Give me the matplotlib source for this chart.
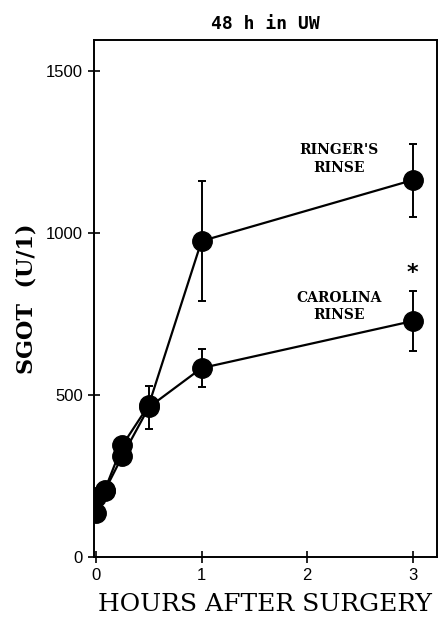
import matplotlib.pyplot as plt

# hours after surgery
hours = [0, 0.083, 0.25, 0.5, 1, 3]

# SGOT (U/l) means and error
ringer = [185, 207, 345, 469, 975, 1163]
ringer_err = [0, 0, 20, 0, 185, 113]
carolina = [136, 205, 312, 462, 583, 728]
carolina_err = [0, 0, 18, 66, 58, 93]

serif = ['DejaVu Serif']
sans = ['Liberation Sans', 'DejaVu Sans']

fig = plt.figure(figsize=(4.39, 6.22), dpi=100)
ax = fig.add_axes([0.214, 0.1045, 0.781, 0.8315])

for y, e in [(ringer, ringer_err), (carolina, carolina_err)]:
    ax.errorbar(hours, y, yerr=e, color='black', lw=1.6, marker='o', ms=14,
                elinewidth=1.4, capsize=3, capthick=1.4)

ax.set_xlim(-0.02, 3.23)
ax.set_ylim(0, 1596)
ax.set_xticks([0, 1, 2, 3])
ax.set_yticks([0, 500, 1000, 1500])
ax.tick_params(direction='inout', length=9, width=1.2, labelsize=12)
for lab in ax.get_xticklabels() + ax.get_yticklabels():
    lab.set_family(sans)
for s in ax.spines.values():
    s.set_linewidth(1.4)

ax.text(2.3, 1228, "RINGER'S\nRINSE", ha='center', va='center', fontsize=10,
        fontweight='bold', family=serif, linespacing=1.3)
ax.text(2.3, 772, "CAROLINA\nRINSE", ha='center', va='center', fontsize=10,
        fontweight='bold', family=serif, linespacing=1.3)
ax.text(3, 875, '*', ha='center', va='center', fontsize=16, fontweight='bold')

ax.set_title('48 h in UW', family=['DejaVu Sans Mono'], fontweight='bold', fontsize=13, pad=8)
ax.set_xlabel('HOURS AFTER SURGERY', family=serif, fontsize=18, labelpad=7)
ax.set_ylabel('SGOT  (U/1)', family=serif, fontweight='bold', fontsize=16, labelpad=6)

fig.savefig('out.png', dpi=100)
